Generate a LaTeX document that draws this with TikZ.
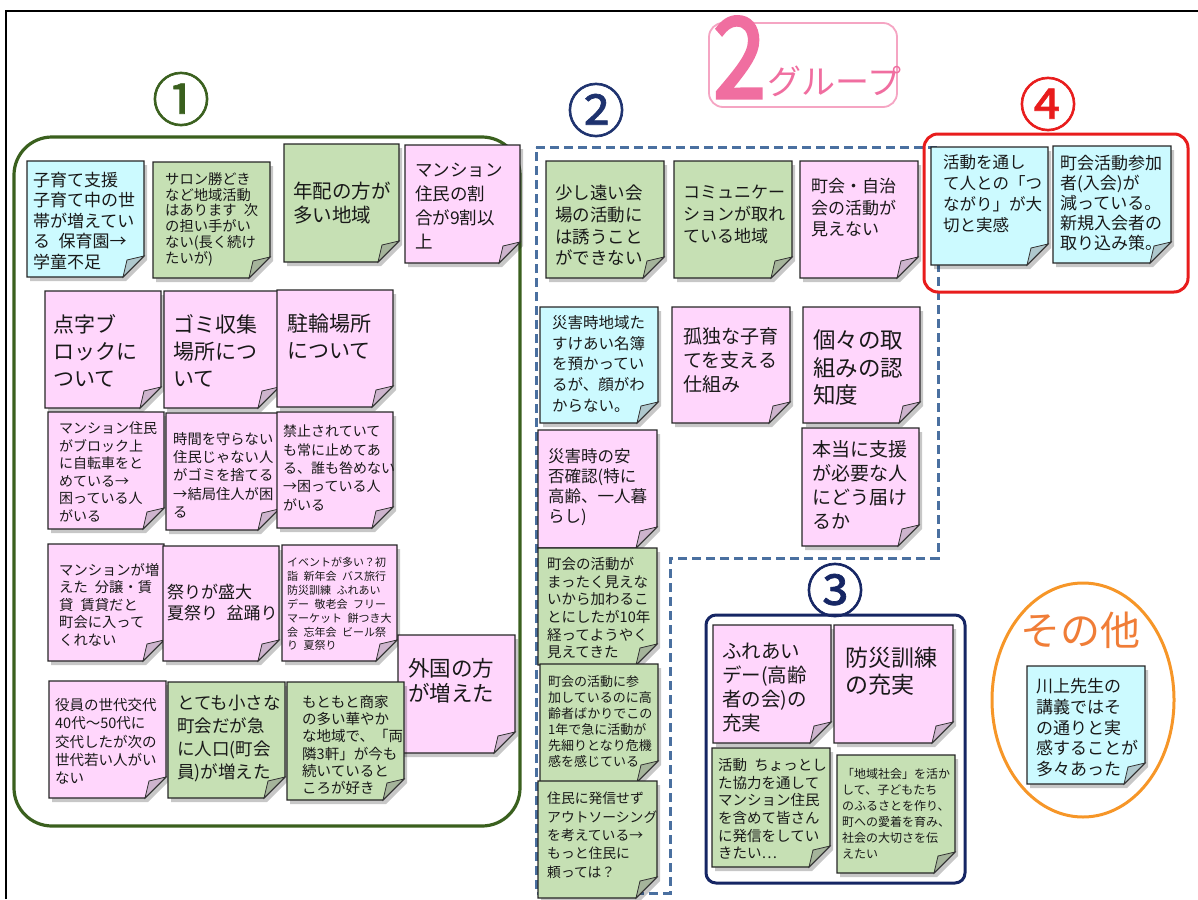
\documentclass[tikz,border=0pt]{standalone}
\usepackage{fontspec}
\setmainfont{Noto Sans CJK JP}
\newfontfamily\ttlfont{Noto Sans CJK JP}[FakeBold=3]
\newfontfamily\numfont{Noto Sans CJK JP}[FakeBold=1.2]
\usetikzlibrary{calc}
\definecolor{cyN}{RGB}{204,250,255}
\definecolor{cyF}{RGB}{175,200,205}
\definecolor{grN}{RGB}{198,224,180}
\definecolor{grF}{RGB}{165,180,155}
\definecolor{pkN}{RGB}{255,214,252}
\definecolor{pkF}{RGB}{205,180,205}
\definecolor{gOne}{RGB}{58,96,30}
\definecolor{gTwo}{RGB}{74,112,160}
\definecolor{gThree}{RGB}{22,38,100}
\definecolor{gFour}{RGB}{232,28,28}
\definecolor{oth}{RGB}{246,150,40}
\definecolor{othT}{RGB}{240,125,55}
\definecolor{ttl}{RGB}{240,110,160}
\definecolor{ttlB}{RGB}{245,165,195}
\definecolor{numTwo}{RGB}{30,50,110}
\newcommand\gap{\hspace{0.5em}}
\tikzset{
  fs/.style 2 args={font=\fontsize{#1pt}{#2pt}\selectfont},
  notetext/.style={anchor=north west, inner sep=0pt, align=left, text=black!90},
  notebd/.style={draw=black!85, line width=1.1pt},
  circnum/.style={inner sep=0pt, font=\numfont\fontsize{58pt}{58pt}\selectfont},
}
% name, top-left, bottom-right, colour prefix, font size/leading, text top-left, text
\newcommand\note[7]{%
  \coordinate (#1-a) at (#2);
  \coordinate (#1-b) at (#3);
  \coordinate (#1-c) at (#1-a -| #1-b);
  \coordinate (#1-d) at (#1-a |- #1-b);
  \coordinate (#1-e) at ($(#1-b)+(-21,0)$);
  \coordinate (#1-f) at ($(#1-b)+(0,-21)$);
  \fill[black, opacity=0.22] ($(#1-a)+(3,4)$) -- ($(#1-c)+(3,4)$) -- ($(#1-f)+(3,4)$) -- ($(#1-e)+(3,4)$) -- ($(#1-d)+(3,4)$) -- cycle;
  \filldraw[fill=#4N, notebd] (#1-a) -- (#1-c) -- (#1-f) -- (#1-e) -- (#1-d) -- cycle;
  \filldraw[fill=#4F, draw=black!80, line width=0.8pt] (#1-e) .. controls ($(#1-b)+(-19,-8)$) .. ($(#1-b)+(-17,-17)$) .. controls ($(#1-b)+(-8,-19)$) .. (#1-f) -- cycle;
  \node[notetext, fs=#5] (#1) at (#6) {#7};
}
\begin{document}
\begin{tikzpicture}[x=1pt, y=-1pt]
\useasboundingbox (0,0) rectangle (1198,899);
% outer frame
\coordinate (fr1) at (6,899);
\coordinate (fr2) at (6,11);
\coordinate (fr3) at (1198,11);
\draw[line width=2.6pt, black] (fr1) -- (fr2) -- (fr3);

% title
\node[draw=ttlB, line width=1.8pt, rounded corners=14pt, minimum width=188pt, minimum height=84pt, inner sep=0pt] (title) at (803,65) {};
\node[anchor=base west, inner sep=0pt, text=ttl, xscale=0.85, font=\ttlfont\fontsize{112pt}{112pt}\selectfont] (two) at (713,98) {2};
\node[anchor=base west, inner sep=0pt, text=ttl, font=\fontsize{34pt}{34pt}\selectfont] (grp) at (767,94) {グループ};

% group outlines
\draw[gOne, line width=3.2pt, rounded corners=38pt] (14,137) rectangle (520,826);
\coordinate (g2a) at (536,147);
\coordinate (g2b) at (938,147);
\coordinate (g2c) at (938,558);
\coordinate (g2d) at (670,558);
\coordinate (g2e) at (670,893);
\coordinate (g2f) at (536,893);
\draw[gTwo, line width=3pt, dash pattern=on 9pt off 5pt] (g2a) -- (g2b) -- (g2c) -- (g2d) -- (g2e) -- (g2f) -- cycle;
\draw[gThree, line width=3pt, rounded corners=10pt] (706,615) rectangle (965,883);
\draw[gFour, line width=3pt, rounded corners=14pt] (924,134) rectangle (1188,292);
\draw[oth, line width=3pt] (1083,700) ellipse [x radius=91, y radius=117];

% group labels
\node[circnum, text=gOne] (l1) at (181,99) {①};
\node[circnum, text=numTwo] (l2) at (596,110) {②};
\node[circnum, text=gThree] (l3) at (835,590) {③};
\node[circnum, text=gFour] (l4) at (1048,104) {④};
\node[inner sep=0pt, text=othT, font=\fontsize{40pt}{40pt}\selectfont] (lo) at (1080,630) {その他};

% group 1
\note{n1}{27,161}{144,277}{cy}{{17}{20.4}}{33,172}{子育て支援\\子育て中の世\\帯が増えてい\\る\gap 保育園→\\学童不足}
\note{n2}{153,162}{270,278}{gr}{{14.3}{15.8}}{165,172}{サロン勝どき\\など地域活動\\はあります\gap 次\\の担い手がい\\ない(長く続け\\たいが)}
\note{n3}{284,144}{399,262}{gr}{{19.5}{23.5}}{293,182}{年配の方が\\多い地域}
\note{n4}{405,145}{520,263}{pk}{{17.5}{24}}{415,163}{マンション\\住民の割\\合が9割以\\上}
\note{n5}{45,291}{161,408}{pk}{{21}{27}}{53,314}{点字ブ\\ロックに\\ついて}
\note{n6}{164,291}{279,408}{pk}{{21}{27}}{173,314}{ゴミ収集\\場所につ\\いて}
\note{n7}{277,290}{393,407}{pk}{{21}{27}}{287,314}{駐輪場所\\について}
\note{n8}{48,412}{164,529}{pk}{{14}{17.5}}{59,422}{マンション住民\\がブロック上\\に自転車をと\\めている→\\困っている人\\がいる}
\note{n9}{166,413}{279,530}{pk}{{14.3}{18.3}}{173,432}{時間を守らない\\住民じゃない人\\がゴミを捨てる\\→結局住人が困\\る}
\note{n10}{277,412}{393,528}{pk}{{14}{18.3}}{283,425}{禁止されていて\\も常に止めてあ\\る、誰も咎めない\\→困っている人\\がいる}
\note{n11}{48,544}{164,661}{pk}{{14.3}{17.5}}{59,563}{マンションが増\\えた\gap 分譲・賃\\貸\gap 賃貸だと\\町会に入って\\くれない}
\note{n12}{163,546}{279,661}{pk}{{17}{20.5}}{167,584}{祭りが盛大\\夏祭り\gap 盆踊り}
\note{n13}{282,545}{397,661}{pk}{{11}{13.9}}{287,557}{イベントが多い？初\\詣\gap 新年会\gap バス旅行\\防災訓練\gap ふれあい\\デー\gap 敬老会\gap フリー\\マーケット\gap 餅つき大\\会\gap 忘年会\gap ビール祭\\り\gap 夏祭り}
\note{n14}{398,635}{515,753}{pk}{{21.5}{25}}{408,658}{外国の方\\が増えた}
\note{n15}{49,681}{166,798}{pk}{{14.5}{18.3}}{55,698}{役員の世代交代\\40代〜50代に\\交代したが次の\\世代若い人がい\\ない}
\note{n16}{168,682}{285,798}{gr}{{17.5}{22.8}}{177,695}{とても小さな\\町会だが急\\に人口(町会\\員)が増えた}
\note{n17}{287,682}{404,800}{gr}{{14.5}{17.3}}{302,695}{もともと商家\\の多い華やか\\な地域で、「両\\隣3軒」が今も\\続いていると\\ころが好き}

% group 2
\note{n18}{546,161}{664,278}{gr}{{17.5}{21.7}}{555,185}{少し遠い会\\場の活動に\\は誘うこと\\ができない}
\note{n19}{674,161}{792,278}{gr}{{17}{21.7}}{683,185}{コミュニケー\\ションが取れ\\ている地域}
\note{n20}{800,161}{918,278}{pk}{{17}{21.7}}{811,178}{町会・自治\\会の活動が\\見えない}
\note{n21}{540,307}{658,423}{cy}{{15.5}{20.8}}{552,315}{災害時地域た\\すけあい名簿\\を預かってい\\るが、顔がわ\\からない。}
\note{n22}{672,307}{790,423}{pk}{{19}{24}}{683,327}{孤独な子育\\てを支える\\仕組み}
\note{n23}{803,307}{920,423}{pk}{{22.5}{27.5}}{813,330}{個々の取\\組みの認\\知度}
\note{n24}{538,430}{657,548}{pk}{{16.5}{20}}{548,448}{災害時の安\\否確認(特に\\高齢、一人暮\\らし)}
\note{n25}{802,428}{919,546}{pk}{{19}{24}}{812,440}{本当に支援\\が必要な人\\にどう届け\\るか}
\note{n26}{538,548}{657,665}{gr}{{14.5}{17.7}}{547,557}{町会の活動が\\まったく見えな\\いから加わるこ\\とにしたが10年\\経ってようやく\\見えてきた}
\note{n27}{540,664}{658,782}{gr}{{13}{16}}{548,675}{町会の活動に参\\加しているのに高\\齢者ばかりでこの\\1年で急に活動が\\先細りとなり危機\\感を感じている}
\note{n28}{538,781}{657,898}{gr}{{13.8}{18.3}}{547,792}{住民に発信せず\\アウトソーシング\\を考えている→\\もっと住民に\\頼っては？}

% group 3
\note{n29}{713,625}{831,743}{pk}{{19.5}{24}}{722,643}{ふれあい\\デー(高齢\\者の会)の\\充実}
\note{n30}{834,625}{953,743}{pk}{{23}{27}}{845,647}{防災訓練\\の充実}
\note{n31}{712,748}{830,867}{gr}{{14.5}{17.7}}{718,758}{活動\gap ちょっとし\\た協力を通して\\マンション住民\\を含めて皆さん\\に発信をしてい\\きたい…}
\note{n32}{837,755}{955,873}{gr}{{12}{16}}{842,768}{「地域社会」を活か\\して、子どもたち\\のふるさとを作り、\\町への愛着を育み、\\社会の大切さを伝\\えたい}

% other
\note{n33}{1027,666}{1145,784}{cy}{{17}{20.8}}{1036,678}{川上先生の\\講義ではそ\\の通りと実\\感することが\\多々あった}

% group 4
\note{n34}{931,147}{1048,265}{cy}{{16.5}{21}}{943,155}{活動を通し\\て人との「つ\\ながり」が大\\切と実感}
\note{n35}{1053,146}{1171,263}{cy}{{17}{20}}{1060,155}{町会活動参加\\者(入会)が\\減っている。\\新規入会者の\\取り込み策。}
\end{tikzpicture}
\end{document}
